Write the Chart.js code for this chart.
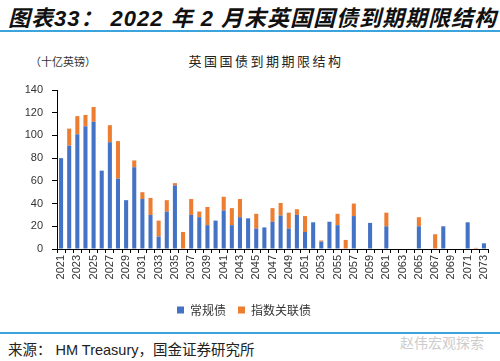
<!DOCTYPE html>
<html lang="zh">
<head>
<meta charset="UTF-8" />
<title>英国国债到期期限结构</title>
<script src="https://cdn.jsdelivr.net/npm/chart.js"></script>
<style>
    body { margin: 0; width: 500px; height: 361px; background: #fff; position: relative; overflow: hidden;
           font-family: "Liberation Sans", "Noto Sans CJK SC", sans-serif; }
    .title { position: absolute; left: 8px; top: 0px; font-size: 22px; font-weight: bold; font-style: italic;
             color: #111; white-space: nowrap; letter-spacing: 1px; }
    .rule { position: absolute; left: 0; width: 500px; height: 2px; background: #3ba4dc; }
    .ctitle { position: absolute; top: 51px; left: 0; width: 532px; text-align: center; font-size: 13px;
              color: #222; font-family: "Noto Sans CJK SC", serif; letter-spacing: 2.5px; }
    .unit { position: absolute; top: 53px; left: 30px; font-size: 11px; color: #333;
            font-family: "Noto Sans CJK SC", sans-serif; }
    .src { position: absolute; left: 8px; top: 338px; font-size: 14.5px; color: #222; white-space: nowrap; }
    .wm { position: absolute; left: 400px; top: 332px; font-size: 14px; color: #cccccc; white-space: nowrap; }
    .wrap { position: absolute; left: 0; top: 38px; width: 500px; height: 288px; }
</style>
</head>
<body>
<div class="title">图表33：&nbsp;2022 年 2 月末英国国债到期期限结构</div>
<div class="rule" style="top:30px"></div>
<div class="unit">（十亿英镑）</div>
<div class="ctitle">英国国债到期期限结构</div>
<div class="wrap"><canvas id="grafico"></canvas></div>
<div class="rule" style="top:332px"></div>
<div class="wm">赵伟宏观探索</div>
<div class="src">来源：&nbsp;HM Treasury，国金证券研究所</div>

<script>
    const anios = [];
    for (let y = 2021; y <= 2073; y++) anios.push(String(y));

    // 常规债（十亿英镑）
    const convencional = [80, 91, 101, 108, 112, 69, 94, 62, 43, 72,
        44, 30, 11, 33, 56, 0, 30, 28, 21, 25,
        34, 21, 28, 27, 18, 19, 24, 29.5, 18, 30,
        15, 23.5, 6.5, 24, 21, 0, 29, 0, 23, 0,
        20, 0, 0, 0, 20, 0, 0, 20, 0, 0,
        23.5, 0, 5];

    // 指数关联债（十亿英镑）
    const indexados = [0, 15, 16, 10, 13, 0, 15, 33, 0, 6,
        6, 15, 14, 10, 2, 15, 14, 5, 16, 0,
        12, 15, 16, 0, 13, 0, 12, 11, 14, 5,
        14, 0, 1, 0, 10, 8, 11, 0, 0, 0,
        12, 0, 0, 0, 8, 0, 13, 0, 0, 0,
        0, 1, 0];

    const ctx = document.getElementById('grafico').getContext('2d');

    new Chart(ctx, {
        type: 'bar',
        data: {
            labels: anios,
            datasets: [{
                label: '常规债',
                data: convencional,
                backgroundColor: '#4472c4',
                barPercentage: 0.5,
                categoryPercentage: 1
            }, {
                label: '指数关联债',
                data: indexados,
                backgroundColor: '#ed7d31',
                barPercentage: 0.5,
                categoryPercentage: 1
            }]
        },
        options: {
            responsive: true,
            maintainAspectRatio: false,
            animation: false,
            layout: { padding: { top: 52, right: 12, left: 0, bottom: 0 } },
            plugins: {
                tooltip: { enabled: false },
                legend: {
                    position: 'bottom',
                    labels: {
                        boxWidth: 7,
                        boxHeight: 7,
                        padding: 12,
                        color: '#333',
                        font: { size: 12, family: '"Noto Sans CJK SC", sans-serif' }
                    }
                }
            },
            scales: {
                x: {
                    stacked: true,
                    border: { color: '#000', width: 1 },
                    grid: { display: true, drawOnChartArea: false, drawTicks: true, tickLength: 4, color: '#000', offset: true },
                    ticks: {
                        autoSkip: false,
                        minRotation: 90,
                        maxRotation: 90,
                        padding: 2,
                        color: '#333',
                        font: { size: 11, family: '"Liberation Sans", sans-serif' },
                        callback: (v, i) => i % 2 === 0 ? anios[i] : ''
                    },
                    afterFit: s => { s.height = 43; }
                },
                y: {
                    stacked: true,
                    min: 0,
                    max: 140,
                    border: { color: '#000', width: 1 },
                    grid: { display: true, drawOnChartArea: false, drawTicks: true, tickLength: 5, color: '#000' },
                    ticks: {
                        stepSize: 20,
                        padding: 9,
                        color: '#333',
                        font: { size: 11, family: '"Liberation Sans", sans-serif' }
                    },
                    afterFit: s => { s.width = 57; }
                }
            }
        }
    });
</script>
</body>
</html>
